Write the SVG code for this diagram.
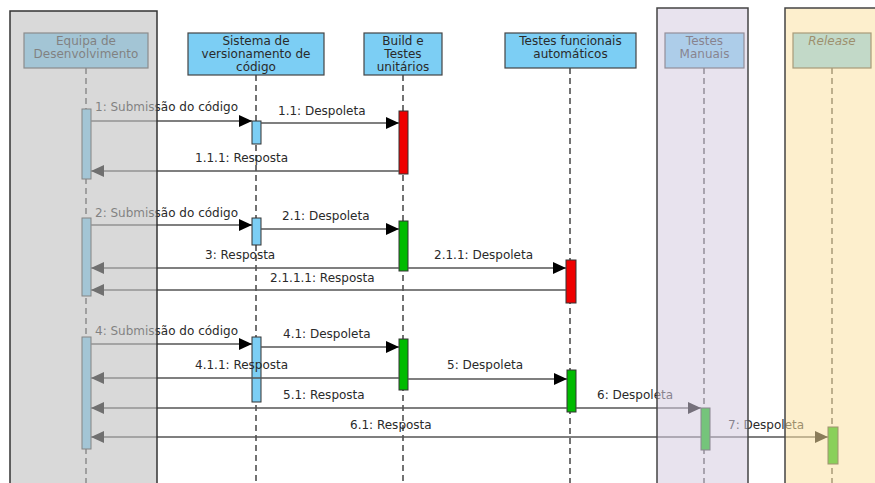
<svg xmlns="http://www.w3.org/2000/svg" width="875" height="483" viewBox="0 0 875 483">
  <style>
    text { font-family: "DejaVu Sans", "Liberation Sans", sans-serif; font-size: 12px; fill: #2a2a2a; }
    .head { fill: #7ccef4; stroke: #444; stroke-width: 1.2; }
    .life { stroke: #444; stroke-width: 1.5; stroke-dasharray: 6 4; fill: none; }
    .act { stroke: #333; stroke-width: 1; }
    .blue { fill: #7ccef4; }
    .red { fill: #ee0000; }
    .green { fill: #00bb00; }
    .msg { stroke: #555; stroke-width: 1.3; fill: none; marker-end: url(#arrow); }
    .hl { text-anchor: middle; }
  </style>
  <defs>
    <marker id="arrow" markerWidth="13" markerHeight="12" refX="13" refY="6" orient="auto" markerUnits="userSpaceOnUse">
      <path d="M0,0 L13,6 L0,12 z" fill="#000"/>
    </marker>
  </defs>
  <rect width="875" height="483" fill="#fff"/>

  <!-- lifelines -->
  <g id="equipa">
    <line class="life" x1="86" y1="68" x2="86" y2="483"/>
    <rect class="head" x="24" y="33" width="124" height="35"/>
    <text class="hl" x="86" y="45">Equipa de</text>
    <text class="hl" x="86" y="58">Desenvolvimento</text>
    <rect class="act blue" x="82" y="109" width="9" height="70"/>
    <rect class="act blue" x="82" y="218" width="9" height="78"/>
    <rect class="act blue" x="82" y="337" width="9" height="112"/>
  </g>
  <g id="sistema">
    <line class="life" x1="256" y1="75" x2="256" y2="483"/>
    <rect class="head" x="188" y="33" width="136" height="42"/>
    <text class="hl" x="256" y="45">Sistema de</text>
    <text class="hl" x="256" y="58">versionamento de</text>
    <text class="hl" x="256" y="71">código</text>
    <rect class="act blue" x="252" y="121" width="9" height="23"/>
    <rect class="act blue" x="252" y="218" width="9" height="27"/>
    <rect class="act blue" x="252" y="337" width="9" height="65"/>
  </g>
  <g id="build">
    <line class="life" x1="403" y1="75" x2="403" y2="483"/>
    <rect class="head" x="364" y="33" width="78" height="42"/>
    <text class="hl" x="403" y="45">Build e</text>
    <text class="hl" x="403" y="58">Testes</text>
    <text class="hl" x="403" y="71">unitários</text>
    <rect class="act red" x="399" y="111" width="9" height="63"/>
    <rect class="act green" x="399" y="221" width="9" height="50"/>
    <rect class="act green" x="399" y="339" width="9" height="51"/>
  </g>
  <g id="funcionais">
    <line class="life" x1="570" y1="68" x2="570" y2="483"/>
    <rect class="head" x="505" y="33" width="131" height="35"/>
    <text class="hl" x="570.5" y="45">Testes funcionais</text>
    <text class="hl" x="570.5" y="58">automáticos</text>
    <rect class="act red" x="566" y="260" width="10" height="43"/>
    <rect class="act green" x="567" y="370" width="9" height="42"/>
  </g>
  <g id="manuais">
    <line class="life" x1="704" y1="68" x2="704" y2="483"/>
    <rect class="head" x="665" y="33" width="79" height="35"/>
    <text class="hl" x="704.5" y="45">Testes</text>
    <text class="hl" x="704.5" y="58">Manuais</text>
    <rect class="act green" x="701" y="408" width="9" height="42"/>
  </g>
  <g id="release">
    <line class="life" x1="832" y1="68" x2="832" y2="483"/>
    <rect class="head" x="793" y="33" width="78" height="35"/>
    <text class="hl" x="832" y="45" font-style="italic">Release</text>
    <rect class="act green" x="828" y="427" width="10" height="37"/>
  </g>

  <!-- messages -->
  <g id="connectors">
    <line class="msg" x1="91" y1="121" x2="252" y2="121"/>
    <text x="95" y="111">1: Submissão do código</text>
    <line class="msg" x1="261" y1="123" x2="399" y2="123"/>
    <text x="278" y="115">1.1: Despoleta</text>
    <line class="msg" x1="399" y1="171" x2="91" y2="171"/>
    <text x="195" y="162">1.1.1: Resposta</text>

    <line class="msg" x1="91" y1="225" x2="252" y2="225"/>
    <text x="95" y="217">2: Submissão do código</text>
    <line class="msg" x1="261" y1="229" x2="399" y2="229"/>
    <text x="282" y="220">2.1: Despoleta</text>
    <line class="msg" x1="399" y1="268" x2="91" y2="268"/>
    <text x="205" y="259">3: Resposta</text>
    <line class="msg" x1="408" y1="268" x2="566" y2="268"/>
    <text x="434" y="259">2.1.1: Despoleta</text>
    <line class="msg" x1="566" y1="290" x2="91" y2="290"/>
    <text x="270" y="282">2.1.1.1: Resposta</text>

    <line class="msg" x1="91" y1="344" x2="252" y2="344"/>
    <text x="95" y="335">4: Submissão do código</text>
    <line class="msg" x1="261" y1="347" x2="399" y2="347"/>
    <text x="283" y="338">4.1: Despoleta</text>
    <line class="msg" x1="399" y1="378" x2="91" y2="378"/>
    <text x="195" y="369">4.1.1: Resposta</text>
    <line class="msg" x1="408" y1="379" x2="567" y2="379"/>
    <text x="447" y="369">5: Despoleta</text>
    <line class="msg" x1="567" y1="408" x2="91" y2="408"/>
    <text x="283" y="399">5.1: Resposta</text>
    <line class="msg" x1="576" y1="408" x2="701" y2="408"/>
    <text x="597" y="399">6: Despoleta</text>
    <line class="msg" x1="701" y1="437" x2="91" y2="437"/>
    <text x="350" y="429">6.1: Resposta</text>
    <line class="msg" x1="710" y1="437" x2="828" y2="437"/>
    <text x="728" y="429">7: Despoleta</text>
  </g>

  <!-- translucent partitions laid over the lanes -->
  <g id="partitions">
    <rect x="10" y="11" width="147" height="480" fill="#bebebe" fill-opacity="0.59" stroke="#333" stroke-width="1.5"/>
    <rect x="657" y="8" width="91" height="480" fill="#d5cce0" fill-opacity="0.55" stroke="#444" stroke-width="1.5"/>
    <rect x="785" y="8" width="100" height="480" fill="#fbe2a4" fill-opacity="0.55" stroke="#444" stroke-width="1.5"/>
  </g>
</svg>
